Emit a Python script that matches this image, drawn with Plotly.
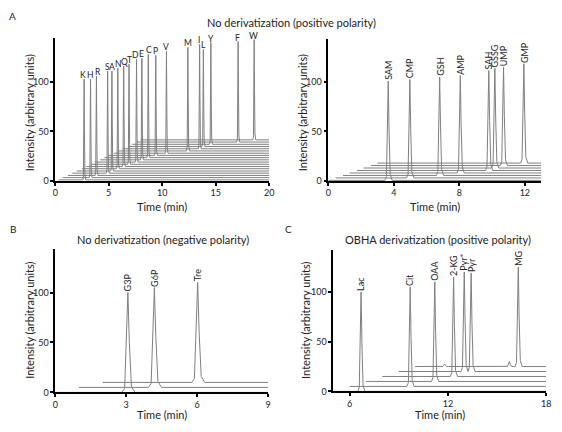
import plotly.graph_objects as go

# ---------------- Data ----------------
# Panel A (left): amino acids, no derivatization, positive polarity
aa_names = ["K", "H", "R", "S", "A", "N", "Q", "T", "D", "E",
            "C", "P", "V", "M", "I", "L", "Y", "F", "W"]
aa_rt = [2.7, 3.3, 3.85, 4.9, 5.3, 5.85, 6.4, 6.9, 7.6, 8.1,
         8.7, 9.4, 10.4, 12.4, 13.5, 13.85, 14.55, 17.1, 18.6]
aa_apex = [103, 103, 106, 111, 111, 114, 116, 118, 123, 124,
           128, 127, 131, 135, 138, 133, 140, 141, 143]
aa_label_x = [2.6, 3.3, 4.0, 4.85, 5.35, 5.9, 6.45, 6.95, 7.55, 8.05,
              8.75, 9.4, 10.35, 12.4, 13.4, 13.9, 14.55, 17.0, 18.5]
aa_base = [1.0, 3.3, 5.5, 7.8, 10.0, 12.3, 14.5, 16.8, 19.0, 21.3,
           23.5, 25.8, 28.0, 30.3, 32.5, 34.8, 37.0, 39.3, 41.5]
aa_start = [0.3, 0.7, 1.2, 1.6, 2.0, 2.5, 2.9, 3.3, 3.7, 4.2,
            4.6, 5.0, 5.5, 5.9, 6.3, 6.8, 7.2, 7.6, 8.0]

# Panel A (right): nucleotides & others
nu_names = ["SAM", "CMP", "GSH", "AMP", "SAH", "GSSG", "UMP", "GMP"]
nu_rt = [3.66, 4.98, 6.8, 8.06, 9.8, 10.17, 10.7, 11.94]
nu_apex = [101, 102.6, 105, 106.6, 111.6, 114, 115, 118.5]
nu_base = [0.5, 3.0, 5.5, 8.0, 10.5, 13.0, 15.5, 18.0]
nu_start = [0.0, 0.45, 0.9, 1.3, 1.75, 2.15, 2.6, 3.0]

# Panel B: negative polarity
neg_names = ["G3P", "G6P", "Tre"]
neg_rt = [3.07, 4.19, 6.02]
neg_apex = [100, 105, 110]
neg_base = [0, 5, 10]
neg_start = [0, 1, 2]

# Panel C: OBHA derivatization (one trace may carry several peaks)
obha_trace_peaks_rt = [[6.7], [9.7], [11.2], [12.35], [13.0, 13.42], [11.8, 15.75, 16.3]]
obha_trace_peaks_apex = [[100], [105], [110], [115], [120, 119], [27.5, 30, 125]]
obha_base = [0, 5, 10, 15, 20, 25]
obha_start = [5, 6, 7, 8, 9, 10]
obha_names = ["Lac", "Cit", "OAA", "2-KG", "Pyr*", "Pyr", "MG"]
obha_label_rt = [6.7, 9.7, 11.2, 12.35, 13.0, 13.42, 16.3]
obha_label_apex = [100, 105, 110, 115, 120, 119, 125]

# ---------------- Styling ----------------
FONT = "Lato"
LINE_COLOR = "#7f7f7f"
TEXT_COLOR = "#222222"
SHAPE_DX = [-1.0, -0.55, -0.25, 0.0, 0.25, 0.6, 1.2]
SHAPE_F = [0.0, 0.04, 0.5, 1.0, 0.5, 0.06, 0.0]


def chrom(start, base, end, rts, apexes, w):
    xs, ys = [start], [base]
    for rt, ap in zip(rts, apexes):
        for d, f in zip(SHAPE_DX, SHAPE_F):
            xs.append(rt + d * w)
            ys.append(base + f * (ap - base))
    xs.append(end)
    ys.append(base)
    return xs, ys


fig = go.Figure()


def add_line(xs, ys, xa, ya):
    fig.add_trace(go.Scatter(x=xs, y=ys, mode="lines", xaxis=xa, yaxis=ya,
                             line=dict(color=LINE_COLOR, width=1),
                             hoverinfo="skip", showlegend=False))


# Panel A left (draw top/back traces first)
for i in reversed(range(len(aa_names))):
    xs, ys = chrom(aa_start[i], aa_base[i], 20, [aa_rt[i]], [aa_apex[i]], 0.12)
    add_line(xs, ys, "x", "y")
# Panel A right
for i in reversed(range(len(nu_names))):
    xs, ys = chrom(nu_start[i], nu_base[i], 13, [nu_rt[i]], [nu_apex[i]], 0.2)
    add_line(xs, ys, "x2", "y2")
# Panel B
for i in reversed(range(len(neg_names))):
    xs, ys = chrom(neg_start[i], neg_base[i], 9, [neg_rt[i]], [neg_apex[i]], 0.25)
    add_line(xs, ys, "x3", "y3")
# Panel C
for i in reversed(range(len(obha_base))):
    xs, ys = chrom(obha_start[i], obha_base[i], 18,
                   obha_trace_peaks_rt[i], obha_trace_peaks_apex[i], 0.2)
    add_line(xs, ys, "x4", "y4")

annotations = []
LABEL_FONT = dict(size=9, color=TEXT_COLOR, family=FONT)
for n, lx, ap in zip(aa_names, aa_label_x, aa_apex):
    annotations.append(dict(x=lx, y=ap, xref="x", yref="y", text=n, showarrow=False,
                            xanchor="center", yanchor="bottom", yshift=-2, borderpad=0,
                            font=dict(size=8.5, color=TEXT_COLOR, family=FONT)))
for n, rt, ap in zip(nu_names, nu_rt, nu_apex):
    annotations.append(dict(x=rt, y=ap, xref="x2", yref="y2", text=n, showarrow=False,
                            textangle=-90, xanchor="center", yanchor="bottom", yshift=0,
                            borderpad=0, font=LABEL_FONT))
for n, rt, ap in zip(neg_names, neg_rt, neg_apex):
    annotations.append(dict(x=rt, y=ap, xref="x3", yref="y3", text=n, showarrow=False,
                            textangle=-90, xanchor="center", yanchor="bottom", yshift=0,
                            borderpad=0, font=LABEL_FONT))
obha_xshift = [0, 0, 0, 0, -1, 1, 0]
for n, rt, ap, xsft in zip(obha_names, obha_label_rt, obha_label_apex, obha_xshift):
    annotations.append(dict(x=rt, y=ap, xref="x4", yref="y4", text=n, showarrow=False,
                            textangle=-90, xanchor="center", yanchor="bottom", yshift=0,
                            xshift=xsft, borderpad=0, font=LABEL_FONT))


def paper_text(text, px, py, size, angle=0):
    annotations.append(dict(x=px / 562, y=1 - py / 432, xref="paper", yref="paper",
                            text=text, showarrow=False, textangle=angle,
                            xanchor="center", yanchor="middle", borderpad=0,
                            font=dict(size=size, color=TEXT_COLOR, family=FONT)))


paper_text("A", 10, 16, 10)
paper_text("B", 10, 232, 10)
paper_text("C", 290, 232, 10)
paper_text("No derivatization (positive polarity)", 293, 23, 11)
paper_text("No derivatization (negative polarity)", 162, 242, 11)
paper_text("OBHA derivatization (positive polarity)", 441, 242, 11)
paper_text("Time (min)", 161, 209, 11)
paper_text("Time (min)", 438, 209, 11)
paper_text("Time (min)", 161, 419, 11)
paper_text("Time (min)", 443, 419, 11)
paper_text("Intensity (arbitrary units)", 27, 114, 11, -90)
paper_text("Intensity (arbitrary units)", 304, 114, 11, -90)
paper_text("Intensity (arbitrary units)", 27, 324, 11, -90)
paper_text("Intensity (arbitrary units)", 307, 324, 11, -90)

axis_common = dict(showline=True, linecolor="black", linewidth=1.5, ticks="outside",
                   ticklen=3, tickwidth=1.5, tickcolor="black", showgrid=False,
                   zeroline=False, tickfont=dict(size=9, color=TEXT_COLOR, family=FONT))

fig.update_layout(
    width=562, height=432, margin=dict(l=0, r=0, t=0, b=0),
    paper_bgcolor="white", plot_bgcolor="white", showlegend=False,
    annotations=annotations,
    xaxis=dict(domain=[53 / 562, 270 / 562], range=[0, 20], tickvals=[0, 5, 10, 15, 20], anchor="y", **axis_common),
    yaxis=dict(domain=[249 / 432, 394 / 432], range=[0, 145], tickvals=[0, 50, 100], anchor="x", **axis_common),
    xaxis2=dict(domain=[330 / 562, 546 / 562], range=[0, 13], tickvals=[0, 4, 8, 12], anchor="y2", **axis_common),
    yaxis2=dict(domain=[249 / 432, 393 / 432], range=[0, 144], tickvals=[0, 50, 100], anchor="x2", **axis_common),
    xaxis3=dict(domain=[53 / 562, 269 / 562], range=[0, 9], tickvals=[0, 3, 6, 9], anchor="y3", **axis_common),
    yaxis3=dict(domain=[35 / 432, 180 / 432], range=[0, 143.5], tickvals=[0, 50, 100], anchor="x3", **axis_common),
    xaxis4=dict(domain=[335 / 562, 551 / 562], range=[5, 18], tickvals=[6, 12, 18], anchor="y4", **axis_common),
    yaxis4=dict(domain=[36 / 432, 179 / 432], range=[0, 142], tickvals=[0, 50, 100], anchor="x4", **axis_common),
)

fig.write_html("out.html", config={"displayModeBar": False},
               post_script="document.body.style.margin='0';")
